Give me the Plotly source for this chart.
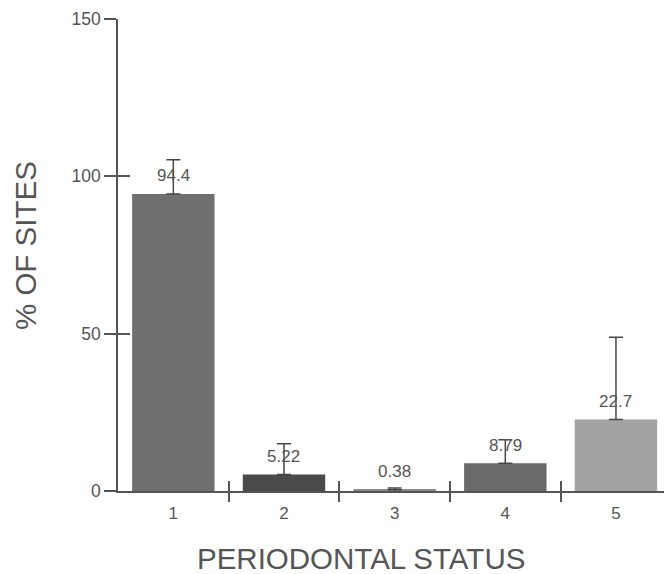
import plotly.graph_objects as go

# Periodontal status categories and the share of sites in each
categories = [1, 2, 3, 4, 5]
tick_labels = ["1", "2", "3", "4", "5"]
site_pct = [94.4, 5.22, 0.38, 8.79, 22.7]
err_upper = [10.9, 9.8, 0.6, 7.5, 26.2]
bar_colors = ["#707070", "#4a4a4a", "#8a8a8a", "#6a6a6a", "#a3a3a3"]
boundaries = [1.5, 2.5, 3.5, 4.5]
y_ticks = [0, 50, 100, 150]

FONT = "Liberation Sans, Arial, sans-serif"
INK = "#555555"

W, H = 664, 574
M_L, M_R, M_T, M_B = 118, 0, 19, 83
PLOT_W = W - M_L - M_R
PLOT_H = H - M_T - M_B


def px_to_paper(px, py):
    """Convert a pixel position on the page to paper coordinates."""
    return (px - M_L) / PLOT_W, (H - M_B - py) / PLOT_H


fig = go.Figure()
fig.add_trace(go.Bar(
    x=categories,
    y=site_pct,
    width=0.745,
    marker=dict(color=bar_colors, line=dict(width=0)),
    error_y=dict(type="data", symmetric=False, array=err_upper,
                 arrayminus=[0] * len(site_pct),
                 color="#474747", thickness=1.5, width=7),
    showlegend=False,
    hoverinfo="skip",
))

# empty traces so the overlay axes carrying the crossing ticks are drawn
for xa, ya in [("x2", "y"), ("x3", "y"), ("x", "y2")]:
    fig.add_trace(go.Scatter(x=[], y=[], xaxis=xa, yaxis=ya,
                             showlegend=False, hoverinfo="skip"))

# value labels above each bar
for c, v in zip(categories, site_pct):
    fig.add_annotation(x=c, y=v, text=str(v), showarrow=False,
                       xref="x", yref="y", yanchor="middle", yshift=18,
                       font=dict(family=FONT, size=17, color=INK))

# axis titles
tx, ty = px_to_paper(361, 558)
fig.add_annotation(x=tx, y=ty, xref="paper", yref="paper",
                   xanchor="center", yanchor="middle",
                   text="PERIODONTAL STATUS", showarrow=False,
                   font=dict(family=FONT, size=29.5, color=INK))
tx, ty = px_to_paper(25, 246)
fig.add_annotation(x=tx, y=ty, xref="paper", yref="paper",
                   xanchor="center", yanchor="middle",
                   text="% OF SITES", showarrow=False, textangle=-90,
                   font=dict(family=FONT, size=29.5, color=INK))

x_range = [0.5, 5.434]
y_range = [0, 150]

fig.update_layout(
    width=W, height=H,
    margin=dict(l=M_L, r=M_R, t=M_T, b=M_B),
    paper_bgcolor="white", plot_bgcolor="white",
    font=dict(family=FONT, color=INK),
    xaxis=dict(range=x_range, tickvals=categories, ticktext=tick_labels,
               ticks="", showgrid=False, zeroline=False,
               showline=True, linecolor=INK, linewidth=1.5,
               ticklabelstandoff=6,
               tickfont=dict(size=17, color=INK)),
    # boundary ticks between categories, drawn on both sides of the baseline
    xaxis2=dict(range=x_range, overlaying="x", anchor="y",
                tickvals=boundaries, showticklabels=False,
                ticks="outside", ticklen=10, tickwidth=1.5, tickcolor=INK,
                showgrid=False, zeroline=False, showline=False),
    xaxis3=dict(range=x_range, overlaying="x", anchor="y",
                tickvals=boundaries, showticklabels=False,
                ticks="inside", ticklen=10, tickwidth=1.5, tickcolor=INK,
                showgrid=False, zeroline=False, showline=False),
    yaxis=dict(range=y_range, tickvals=y_ticks,
               ticks="outside", ticklen=12, tickwidth=1.5, tickcolor=INK,
               showgrid=False, zeroline=False,
               showline=True, linecolor=INK, linewidth=1.5,
               tickfont=dict(size=17.5, color=INK)),
    yaxis2=dict(range=y_range, overlaying="y", anchor="x",
                tickvals=y_ticks, showticklabels=False,
                ticks="inside", ticklen=12, tickwidth=1.5, tickcolor=INK,
                showgrid=False, zeroline=False, showline=False),
)

fig.write_html("out.html")
